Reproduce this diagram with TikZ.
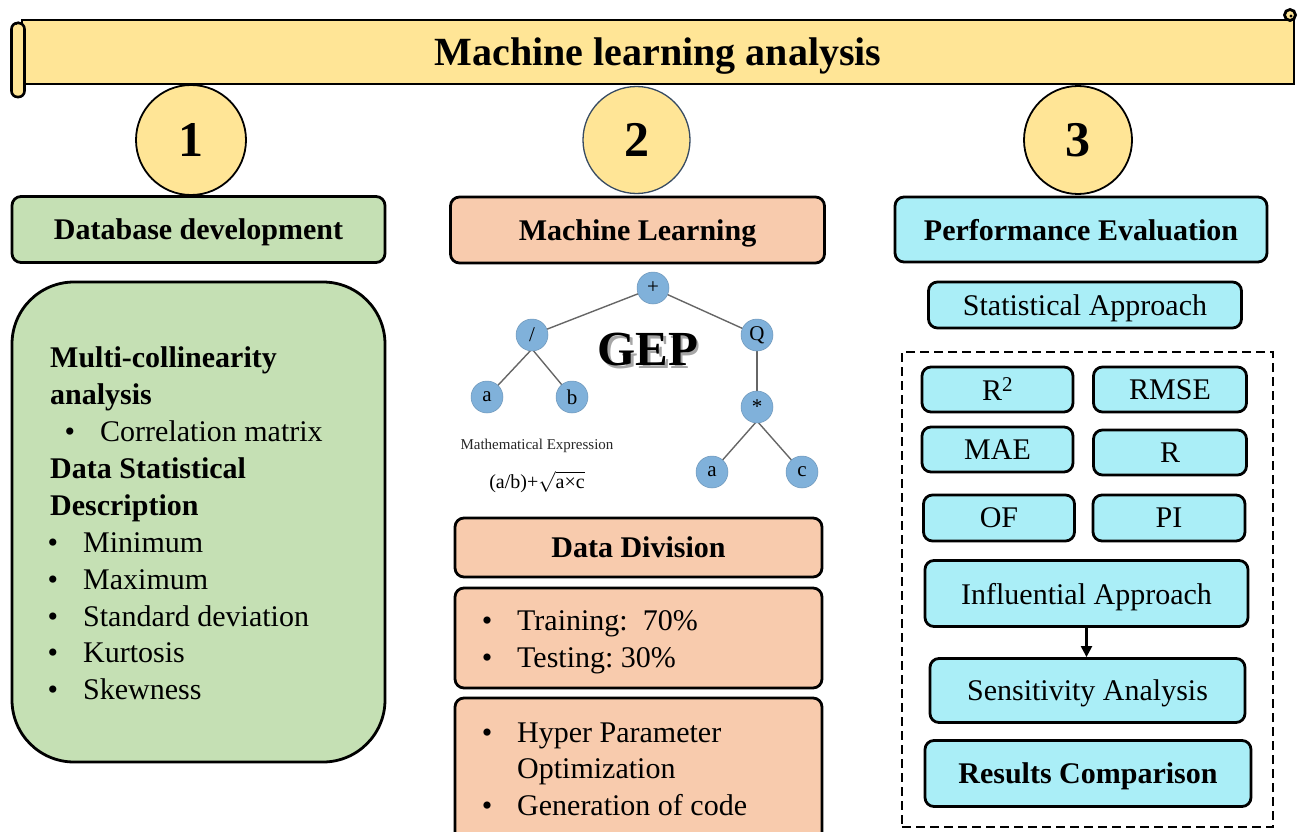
\documentclass[tikz,border=0pt]{standalone}
\usepackage{fontspec}
\setmainfont{Liberation Serif}
\usetikzlibrary{arrows.meta}
\definecolor{scrollyellow}{RGB}{255,229,150}
\definecolor{dbgreen}{RGB}{197,224,180}
\definecolor{mlorange}{RGB}{248,203,173}
\definecolor{evalcyan}{RGB}{170,238,247}
\definecolor{treeblue}{RGB}{128,177,218}
\definecolor{slateline}{RGB}{55,75,98}
\begin{document}
\begin{tikzpicture}[x=1pt,y=-1pt,
  txt/.style={font=\fontsize{30}{36}\selectfont},
  headtxt/.style={font=\fontsize{30}{36}\selectfont\bfseries},
  box/.style={draw=black, line width=2.8pt, rounded corners=9pt, inner sep=0pt, align=center, text depth=0pt},
  greenbox/.style={box, fill=dbgreen},
  orangebox/.style={box, fill=mlorange},
  cyanbox/.style={box, fill=evalcyan},
  stepnum/.style={circle, fill=scrollyellow, draw=black, line width=1.8pt, inner sep=0pt,
    minimum size=110pt, font=\fontsize{50}{50}\selectfont\bfseries},
  line/.style={anchor=base west, inner sep=0pt, txt},
  boldline/.style={anchor=base west, inner sep=0pt, headtxt},
  dot/.style={anchor=base, inner sep=0pt, txt},
  gnode/.style={circle, fill=treeblue, draw=treeblue!85!black, line width=0.5pt, inner sep=0pt,
    minimum size=32pt, font=\fontsize{21}{21}\selectfont},
  gedge/.style={draw=black!60, line width=1.4pt},
]
\clip (0,0) rectangle (1298,832);

% ---------- title scroll ----------
\node[draw=black, line width=2.8pt, fill=scrollyellow, minimum width=1272pt, minimum height=64pt,
  inner sep=0pt, text depth=0pt, font=\fontsize{40}{40}\selectfont\bfseries] (banner) at (658,52) {Machine learning analysis};
\node[draw=black, line width=2.6pt, fill=scrollyellow, rounded corners=6pt, minimum width=13pt,
  minimum height=74pt, inner sep=0pt] (rollL) at (18,60) {};
\draw[line width=1.2pt] (rollL.north) ++(-2,3) arc[start angle=180, end angle=0, radius=2.5pt];
\node[circle, draw=black, line width=2.8pt, fill=scrollyellow, minimum size=11pt, inner sep=0pt]
  (rollR) at (1290,15) {};
\fill (rollR.center) ++(1,1) circle[radius=1.6pt];

% ---------- step markers ----------
\node[stepnum] (n1) at (191,140) {1};
\node[stepnum, draw=slateline, line width=1.3pt, minimum size=107pt] (n2) at (636.5,140) {2};
\node[stepnum, minimum size=108pt] (n3) at (1078,140) {3};

% ---------- column 1: database ----------
\node[greenbox, minimum width=373pt, minimum height=66pt, headtxt] (db) at (198.5,229.5) {Database development};
\node[greenbox, rounded corners=62pt, minimum width=373pt, minimum height=480pt] (dbbody) at (198.5,522) {};
\node[boldline] (m1) at (50,367) {Multi-collinearity};
\node[boldline] (m2) at (50,404) {analysis};
\node[dot] (bc) at (70,441) {•};
\node[line] (m3) at (100,441) {Correlation matrix};
\node[boldline] (m4) at (50,478) {Data Statistical};
\node[boldline] (m5) at (50,515) {Description};
\node[dot] (b1) at (53,552) {•};
\node[line] (s1) at (83,552) {Minimum};
\node[dot] (b2) at (53,589) {•};
\node[line] (s2) at (83,589) {Maximum};
\node[dot] (b3) at (53,626) {•};
\node[line] (s3) at (83,626) {Standard deviation};
\node[dot] (b4) at (53,662) {•};
\node[line] (s4) at (83,662) {Kurtosis};
\node[dot] (b5) at (53,699) {•};
\node[line] (s5) at (83,699) {Skewness};

% ---------- column 2: machine learning ----------
\node[orangebox, minimum width=374pt, minimum height=66pt, headtxt] (ml) at (637.5,230) {Machine Learning};

% expression tree of the GEP chromosome: edges first, nodes on top
\coordinate (pplus) at (653,288);
\coordinate (pdiv) at (532,335);
\coordinate (psq) at (757,335);
\coordinate (pmul) at (757,407);
\path[gedge] (pplus) -- (pdiv);
\path[gedge] (pplus) -- (psq);
\path[gedge] (pdiv) ++(0,14) -- (487,397);
\path[gedge] (pdiv) ++(0,14) -- (572,397);
\path[gedge] (psq) -- (pmul);
\path[gedge] (pmul) ++(0,14) -- (712,472);
\path[gedge] (pmul) ++(0,14) -- (802,472);
\node[gnode] (plus) at (pplus) {+};
\node[gnode] (div) at (pdiv) {/};
\node[gnode] (sq) at (psq) {Q};
\node[gnode] (ta) at (487,397) {a};
\node[gnode] (tb) at (572,397) {b};
\node[gnode] (mul) at (pmul) {*};
\node[gnode] (ta2) at (712,472) {a};
\node[gnode] (tc) at (802,472) {c};

\node[inner sep=0pt, font=\fontsize{49}{49}\selectfont\bfseries] (gep) at (648,351)
  {\rlap{\kern2.5pt\raisebox{-2.5pt}{\color{black!35}GEP}}GEP};
\node[inner sep=0pt, font=\fontsize{15}{15}\selectfont, text=black!85] (mexp) at (537,446) {Mathematical Expression};
\node[inner sep=0pt, font=\fontsize{20}{20}\selectfont] (formula) at (537,482) {(a/b)+$\sqrt{\hbox{a×c}}$};

\node[orangebox, minimum width=367pt, minimum height=59pt, headtxt] (dd) at (638.5,547.5) {Data Division};
\node[orangebox, minimum width=367pt, minimum height=100pt] (split) at (638.5,638) {};
\node[dot] (bt1) at (487,630) {•};
\node[line] (tr) at (517,630) {Training:\ \ 70\%};
\node[dot] (bt2) at (487,667) {•};
\node[line] (te) at (517,667) {Testing:\ 30\%};
\node[orangebox, minimum width=367pt, minimum height=150pt] (hyp) at (638.5,773) {};
\node[dot] (bh1) at (487,742) {•};
\node[line] (h1) at (517,742) {Hyper Parameter};
\node[line] (h2) at (517,778) {Optimization};
\node[dot] (bh2) at (487,815) {•};
\node[line] (h3) at (517,815) {Generation of code};

% ---------- column 3: evaluation ----------
\node[cyanbox, minimum width=372pt, minimum height=65pt, headtxt] (pe) at (1081,229.5) {Performance Evaluation};
\node[cyanbox, minimum width=313pt, minimum height=46pt, txt] (stat) at (1085,305) {Statistical Approach};
\node[draw=black, line width=2.4pt, dash pattern=on 9pt off 5pt, minimum width=371pt,
  minimum height=475pt, inner sep=0pt] (metrics) at (1087.5,589.5) {};
\node[cyanbox, minimum width=151pt, minimum height=45pt, txt] (r2) at (997.5,389.5) {R\textsuperscript{2}};
\node[cyanbox, minimum width=153pt, minimum height=45pt, txt] (rmse) at (1170,389.5) {RMSE};
\node[cyanbox, minimum width=151pt, minimum height=45pt, txt] (mae) at (997.5,449.5) {MAE};
\node[cyanbox, minimum width=153pt, minimum height=45pt, txt] (rr) at (1170,452.5) {R};
\node[cyanbox, minimum width=151pt, minimum height=46pt, txt] (of) at (999,518) {OF};
\node[cyanbox, minimum width=152pt, minimum height=46pt, txt] (pi) at (1169,518) {PI};
\node[cyanbox, minimum width=323pt, minimum height=66pt, txt] (infl) at (1086.5,593.5) {Influential Approach};
\node[cyanbox, minimum width=315pt, minimum height=64pt, txt] (sens) at (1087.5,690.5) {Sensitivity Analysis};
\node[cyanbox, minimum width=326pt, minimum height=66pt, headtxt] (res) at (1088,773.5) {Results Comparison};
\draw[line width=2.2pt, -{Triangle[length=11pt,width=11pt]}] (infl) -- (infl |- sens.north);
\end{tikzpicture}
\end{document}
